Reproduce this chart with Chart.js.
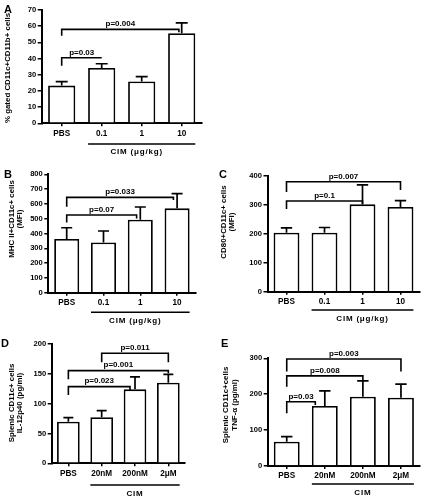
<!DOCTYPE html>
<html>
<head>
<meta charset="utf-8">
<script src="https://cdn.jsdelivr.net/npm/chart.js@4.4.1/dist/chart.umd.min.js"></script>
<style>
  html, body { margin: 0; padding: 0; background: #fff; }
  #wrap { position: relative; width: 421px; height: 497px; overflow: hidden; }
  .panel { position: absolute; }
</style>
</head>
<body>
<div id="wrap">
  <div class="panel" style="left:0;top:0;width:210px;height:160px"><canvas id="chartA"></canvas></div>
  <div class="panel" style="left:0;top:160px;width:210px;height:170px"><canvas id="chartB"></canvas></div>
  <div class="panel" style="left:210px;top:160px;width:211px;height:170px"><canvas id="chartC"></canvas></div>
  <div class="panel" style="left:0;top:330px;width:210px;height:167px"><canvas id="chartD"></canvas></div>
  <div class="panel" style="left:210px;top:330px;width:211px;height:167px"><canvas id="chartE"></canvas></div>
</div>
<script>
// Data (bar = mean, error = SEM, one-sided)
const doseCats = ["PBS", "0.1", "1", "10"];
const concCats = ["PBS", "20nM", "200nM", "2\u03bcM"];

const aMeans = [23.3, 34.2, 25.9, 55.6];
const aErrors = [2.4, 2.6, 2.9, 6.5];
const aBrackets = [
  { from: 0, to: 1, y: 40.5, left: 35.6, right: 40.5, label: "p=0.03" },
  { from: 0, to: 2.93, y: 58, left: 54.1, right: 56.2, label: "p=0.004" },
];

const bMeans = [363, 340, 493, 570];
const bErrors = [76, 77, 86, 99];
const bBrackets = [
  { from: 0, to: 1.9, y: 525, left: 475, right: 502, label: "p=0.07" },
  { from: 0, to: 2.9, y: 644, left: 581, right: 626, label: "p=0.033" },
];

const cMeans = [204, 204, 302, 293];
const cErrors = [17, 18, 67, 22];
const cBrackets = [
  { from: 0, to: 2, y: 313.5, left: 286, right: 302, label: "p=0.1" },
  { from: 0, to: 3, y: 380, left: 345, right: 352, label: "p=0.007" },
];

const dMeans = [69.8, 77.1, 124, 135];
const dErrors = [6.7, 11.2, 21, 14];
const dBrackets = [
  { from: 0, to: 1.85, y: 128.5, left: 114.5, right: 123, label: "p=0.023" },
  { from: 0, to: 3, y: 155.3, left: 140.8, right: 150.8, label: "p=0.001" },
  { from: 1, to: 3, y: 184.4, left: 169.3, right: 169.3, label: "p=0.011" },
];

const eMeans = [67.8, 167, 193, 190];
const eErrors = [13.9, 42, 44, 38];
const eBrackets = [
  { from: 0, to: 0.75, y: 179, left: 147, right: 170, label: "p=0.03" },
  { from: 0, to: 2, y: 251, left: 221, right: 238, label: "p=0.008" },
  { from: 0, to: 3, y: 298, left: 263, right: 263, label: "p=0.003" },
];

const FONT = "'Liberation Sans', Arial, sans-serif";

// Draws error bars, p-value brackets, group underline, axis title and panel letter
const figurePlugin = {
  id: "figure",
  afterDatasetsDraw(chart, args, p) {
    const ctx = chart.ctx;
    const x = chart.scales.x;
    const y = chart.scales.y;
    const meta = chart.getDatasetMeta(0);
    ctx.save();
    ctx.strokeStyle = "#000";
    ctx.fillStyle = "#000";
    ctx.lineWidth = 1.7;

    // error bars
    meta.data.forEach((bar, i) => {
      const top = y.getPixelForValue(p.means[i] + p.errors[i]);
      const half = bar.width * 0.22;
      ctx.beginPath();
      ctx.moveTo(bar.x, bar.y);
      ctx.lineTo(bar.x, top);
      ctx.moveTo(bar.x - half, top);
      ctx.lineTo(bar.x + half, top);
      ctx.stroke();
    });

    // brackets
    ctx.lineWidth = 1.6;
    ctx.font = "bold 8px " + FONT;
    ctx.textAlign = "center";
    ctx.textBaseline = "alphabetic";
    p.brackets.forEach((b) => {
      const x1 = x.getPixelForValue(b.from);
      const x2 = x.getPixelForValue(b.to);
      const yy = y.getPixelForValue(b.y);
      ctx.beginPath();
      ctx.moveTo(x1, y.getPixelForValue(b.left));
      ctx.lineTo(x1, yy);
      ctx.lineTo(x2, yy);
      ctx.lineTo(x2, y.getPixelForValue(b.right));
      ctx.stroke();
      ctx.fillText(b.label, (x1 + x2) / 2, yy - 3.2);
    });
    ctx.restore();
  },
  afterDraw(chart, args, p) {
    const ctx = chart.ctx;
    const meta = chart.getDatasetMeta(0);
    const ox = p.box[0];
    const oy = p.box[1];
    ctx.save();
    ctx.strokeStyle = "#000";
    ctx.fillStyle = "#000";

    // underline for the treated groups
    const first = meta.data[1];
    const last = meta.data[3];
    const lx1 = first.x - first.width / 2;
    const lx2 = last.x + last.width / 2;
    ctx.lineWidth = 1.6;
    ctx.beginPath();
    ctx.moveTo(lx1, p.lineY - oy);
    ctx.lineTo(lx2, p.lineY - oy);
    ctx.stroke();
    ctx.font = "bold 8px " + FONT;
    ctx.letterSpacing = "0.8px";
    ctx.textAlign = "center";
    ctx.textBaseline = "middle";
    ctx.fillText(p.group, (lx1 + lx2) / 2 + p.groupDx, p.groupY - oy);
    ctx.letterSpacing = "0px";

    // y axis title (rotated, one or two lines)
    ctx.font = "bold 7.9px " + FONT;
    p.title.forEach((line, i) => {
      ctx.save();
      ctx.translate(p.titleX[i] - ox, p.titleY - oy);
      ctx.rotate(-Math.PI / 2);
      ctx.fillText(line, 0, 0);
      ctx.restore();
    });

    // panel letter
    ctx.font = "bold 11px " + FONT;
    ctx.textAlign = "left";
    ctx.textBaseline = "alphabetic";
    ctx.fillText(p.letter, p.letterPos[0] - ox, p.letterPos[1] - oy);
    ctx.restore();
  },
};

function makePanel(id, cats, means, errors, brackets, cfg) {
  const [bx, by, bw, bh] = cfg.box;
  const [l, r, t, b] = cfg.plot;
  return new Chart(document.getElementById(id), {
    type: "bar",
    data: {
      labels: cats,
      datasets: [
        {
          data: means,
          backgroundColor: "#fff",
          borderColor: "#000",
          borderWidth: 1.8,
          categoryPercentage: 1,
          barPercentage: 0.68,
        },
      ],
    },
    options: {
      responsive: true,
      maintainAspectRatio: false,
      animation: false,
      devicePixelRatio: 1,
      layout: { padding: { left: 0, top: t - by, right: bx + bw - r, bottom: 0 } },
      plugins: {
        legend: { display: false },
        tooltip: { enabled: false },
        figure: {
          means: means,
          errors: errors,
          brackets: brackets,
          box: cfg.box,
          title: cfg.title,
          titleX: cfg.titleX,
          titleY: cfg.titleY,
          letter: cfg.letter,
          letterPos: cfg.letterPos,
          group: cfg.group,
          groupDx: cfg.groupDx,
          groupY: cfg.groupY,
          lineY: cfg.lineY,
        },
      },
      scales: {
        x: {
          grid: { display: true, drawOnChartArea: false, drawTicks: true, tickLength: 3, offset: false, color: "#000", lineWidth: 1.5 },
          border: { display: true, color: "#000", width: 2 },
          ticks: { color: "#000", font: { family: FONT, size: 8.2, weight: "bold" }, padding: cfg.xPad, maxRotation: 0, autoSkip: false },
          afterFit: (scale) => { scale.height = by + bh - b; },
        },
        y: {
          min: 0,
          max: cfg.max,
          grid: { display: true, drawOnChartArea: false, drawTicks: true, tickLength: 4, color: "#000", lineWidth: 1.5 },
          border: { display: true, color: "#000", width: 2 },
          ticks: { stepSize: cfg.step, color: "#000", font: { family: FONT, size: 7.6, weight: "bold" }, padding: 1.5 },
          afterFit: (scale) => { scale.width = l - bx; },
        },
      },
    },
    plugins: [figurePlugin],
  });
}

const GROUP_DOSE = "CIM (\u03bcg/kg)";

makePanel("chartA", doseCats, aMeans, aErrors, aBrackets, {
  box: [0, 0, 210, 160], plot: [41.7, 201.7, 10, 123.3], max: 70, step: 10, xPad: 3,
  title: ["% gated CD11c+CD11b+ cells"], titleX: [8], titleY: 68,
  letter: "A", letterPos: [4, 13], group: GROUP_DOSE, groupDx: -5, groupY: 151.7, lineY: 144,
});
makePanel("chartB", doseCats, bMeans, bErrors, bBrackets, {
  box: [0, 160, 210, 170], plot: [48.3, 195.5, 174.3, 292.7], max: 800, step: 100, xPad: 2,
  title: ["MHC II+CD11c+ cells", "(MFI)"], titleX: [12, 20], titleY: 219,
  letter: "B", letterPos: [4, 177.5], group: GROUP_DOSE, groupDx: -5, groupY: 320.7, lineY: 312.3,
});
makePanel("chartC", doseCats, cMeans, cErrors, cBrackets, {
  box: [210, 160, 211, 170], plot: [267.5, 419.5, 176, 291.7], max: 400, step: 100, xPad: 2,
  title: ["CD80+CD11c+ cells", "(MFI)"], titleX: [224, 232], titleY: 222,
  letter: "C", letterPos: [219, 177.5], group: GROUP_DOSE, groupDx: 0, groupY: 318.3, lineY: 310,
});
makePanel("chartD", concCats, dMeans, dErrors, dBrackets, {
  box: [0, 330, 210, 167], plot: [51.7, 185, 344, 463.3], max: 200, step: 50, xPad: 3,
  title: ["Splenic CD11c+ cells", "IL-12p40 (pg/ml)"], titleX: [12, 20], titleY: 403,
  letter: "D", letterPos: [1, 347], group: "CIM", groupDx: 0, groupY: 493.3, lineY: 485,
});
makePanel("chartE", concCats, eMeans, eErrors, eBrackets, {
  box: [210, 330, 211, 167], plot: [267.7, 420, 358.3, 466], max: 300, step: 100, xPad: 2,
  title: ["Splenic CD11c+cells", "TNF-\u03b1 (pg/ml)"], titleX: [226, 235], titleY: 405,
  letter: "E", letterPos: [221, 347], group: "CIM", groupDx: 0, groupY: 492.7, lineY: 484,
});
</script>
</body>
</html>
